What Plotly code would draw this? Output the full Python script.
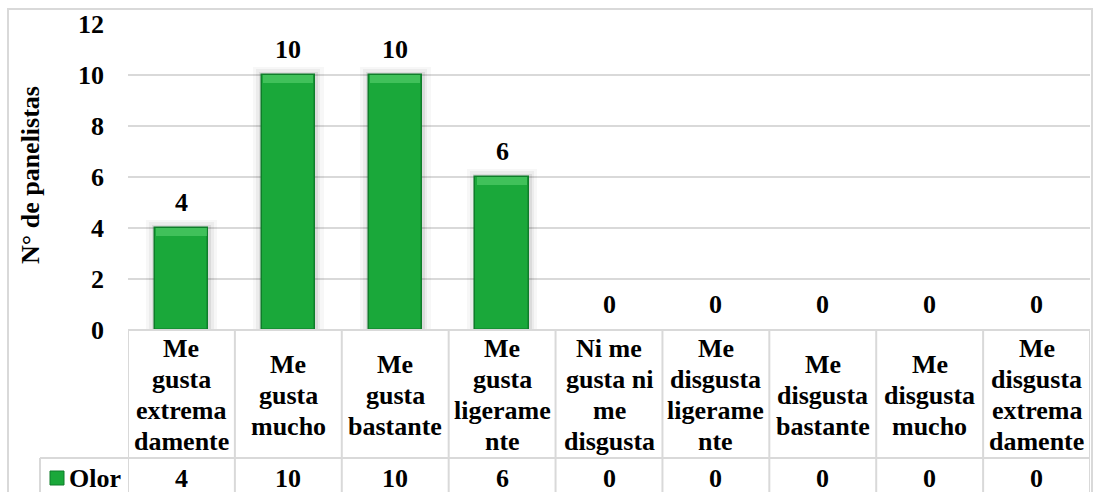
import plotly.graph_objects as go

categories = ["Me gusta extremadamente", "Me gusta mucho", "Me gusta bastante",
              "Me gusta ligeramente", "Ni me gusta ni me disgusta",
              "Me disgusta ligeramente", "Me disgusta bastante",
              "Me disgusta mucho", "Me disgusta extremadamente"]
header_labels = ["Me<br>gusta<br>extrema<br>damente", "Me<br>gusta<br>mucho",
                 "Me<br>gusta<br>bastante", "Me<br>gusta<br>ligerame<br>nte",
                 "Ni me<br>gusta ni<br>me<br>disgusta", "Me<br>disgusta<br>ligerame<br>nte",
                 "Me<br>disgusta<br>bastante", "Me<br>disgusta<br>mucho",
                 "Me<br>disgusta<br>extrema<br>damente"]
values = [4, 10, 10, 6, 0, 0, 0, 0, 0]
series_name = "Olor"
y_ticks = [0, 2, 4, 6, 8, 10, 12]

FONT = "Liberation Serif"
FS = 26
GREEN = "#1aa83a"
GRID = "#d9d9d9"

W, H = 1096, 492
ML, MR, MT, MB = 128, 6, 24, 162
pw = W - ML - MR
ph = H - MT - MB


def px_x(p):
    return (p - ML) / pw


def px_y(p):
    return (H - MB - p) / ph


def bfont(size=FS):
    return dict(family=FONT, size=size, color="black")


def b(t):
    return "<b>" + t + "</b>"


fig = go.Figure()

# soft shadow layers
for w, op, dy in [(0.66, 0.03, 0.32), (0.6, 0.045, 0.22), (0.55, 0.07, 0.13)]:
    fig.add_trace(go.Bar(
        x=categories, y=[v + dy if v > 0 else 0 for v in values], width=w,
        marker=dict(color=f"rgba(0,0,0,{op})", line=dict(width=0)),
        hoverinfo="skip", showlegend=False))

# main bars
fig.add_trace(go.Bar(
    x=categories, y=values, width=0.5, name=series_name,
    marker=dict(color=GREEN, line=dict(color="#0f7d2a",
                                       width=[1.5 if v > 0 else 0 for v in values])),
    showlegend=False))

# top bevel highlight
bev = 0.3
fig.add_trace(go.Bar(
    x=categories, y=[bev if v > 0 else 0 for v in values],
    base=[v - bev for v in values], width=0.47,
    marker=dict(color="rgba(110,225,130,0.45)", line=dict(width=0)),
    hoverinfo="skip", showlegend=False))

# y tick labels through the y axis
for t in y_ticks:
    fig.add_annotation(x=px_x(106), y=t, xref="paper", yref="y", text=b(str(t)),
                       showarrow=False, xanchor="right", yanchor="middle", font=bfont())

# data labels
for c, v in zip(categories, values):
    fig.add_annotation(x=c, y=v, xref="x", yref="y", text=b(str(v)),
                       showarrow=False, yanchor="middle", yshift=26, font=bfont())

# data table: header (one annotation per line for tight line spacing) and values
LINE = 31
for c, lab, v in zip(categories, header_labels, values):
    lines = lab.split("<br>")
    k = len(lines)
    for j, line in enumerate(lines):
        fig.add_annotation(x=c, y=px_y(395), xref="x", yref="paper", text=b(line),
                           showarrow=False, yanchor="middle",
                           yshift=((k - 1) / 2 - j) * LINE, font=bfont())
    fig.add_annotation(x=c, y=px_y(478), xref="x", yref="paper", text=b(str(v)),
                       showarrow=False, yanchor="middle", font=bfont())

fig.add_annotation(x=px_x(67), y=px_y(478), xref="paper", yref="paper", text=b(series_name),
                   showarrow=False, xanchor="left", yanchor="middle", font=bfont())

# y-axis title
fig.add_annotation(x=px_x(30), y=px_y(175), xref="paper", yref="paper",
                   text=b("N° de panelistas"), textangle=-90, showarrow=False,
                   xanchor="center", yanchor="middle", font=bfont())

# table lines
n = len(categories)
shapes = []
for i in range(n + 1):
    shapes.append(dict(type="line", xref="x", yref="paper", x0=i - 0.5, x1=i - 0.5,
                       y0=0, y1=px_y(520), line=dict(color=GRID, width=2)))
shapes.append(dict(type="line", xref="x", yref="paper", x0=-0.5, x1=n - 0.5,
                   y0=0, y1=0, line=dict(color=GRID, width=2)))
shapes.append(dict(type="line", xref="paper", yref="paper", x0=px_x(40), x1=1,
                   y0=px_y(458), y1=px_y(458), line=dict(color=GRID, width=2)))
shapes.append(dict(type="line", xref="paper", yref="paper", x0=px_x(40), x1=px_x(40),
                   y0=px_y(458), y1=px_y(520), line=dict(color=GRID, width=2)))
# legend key
shapes.append(dict(type="rect", xref="paper", yref="paper", x0=px_x(50), x1=px_x(64),
                   y0=px_y(485), y1=px_y(471), fillcolor=GREEN,
                   line=dict(color="#0f7d2a", width=1)))
# outer chart border
shapes.append(dict(type="rect", xref="paper", yref="paper", x0=px_x(8), x1=px_x(1092),
                   y0=px_y(520), y1=px_y(9), line=dict(color=GRID, width=2),
                   fillcolor="rgba(0,0,0,0)"))

fig.update_layout(
    width=W, height=H,
    margin=dict(l=ML, r=MR, t=MT, b=MB),
    barmode="overlay",
    bargap=0,
    plot_bgcolor="white", paper_bgcolor="white",
    shapes=shapes,
    showlegend=False,
    xaxis=dict(type="category", categoryorder="array", categoryarray=categories,
               range=[-0.5, n - 0.5], showticklabels=False, showgrid=False,
               zeroline=False, showline=False, ticks=""),
    yaxis=dict(range=[0, 12], tickvals=y_ticks, showticklabels=False,
               showgrid=True, gridcolor=GRID, gridwidth=2,
               zeroline=False, showline=False, ticks=""),
)

fig.write_html("out.html")
